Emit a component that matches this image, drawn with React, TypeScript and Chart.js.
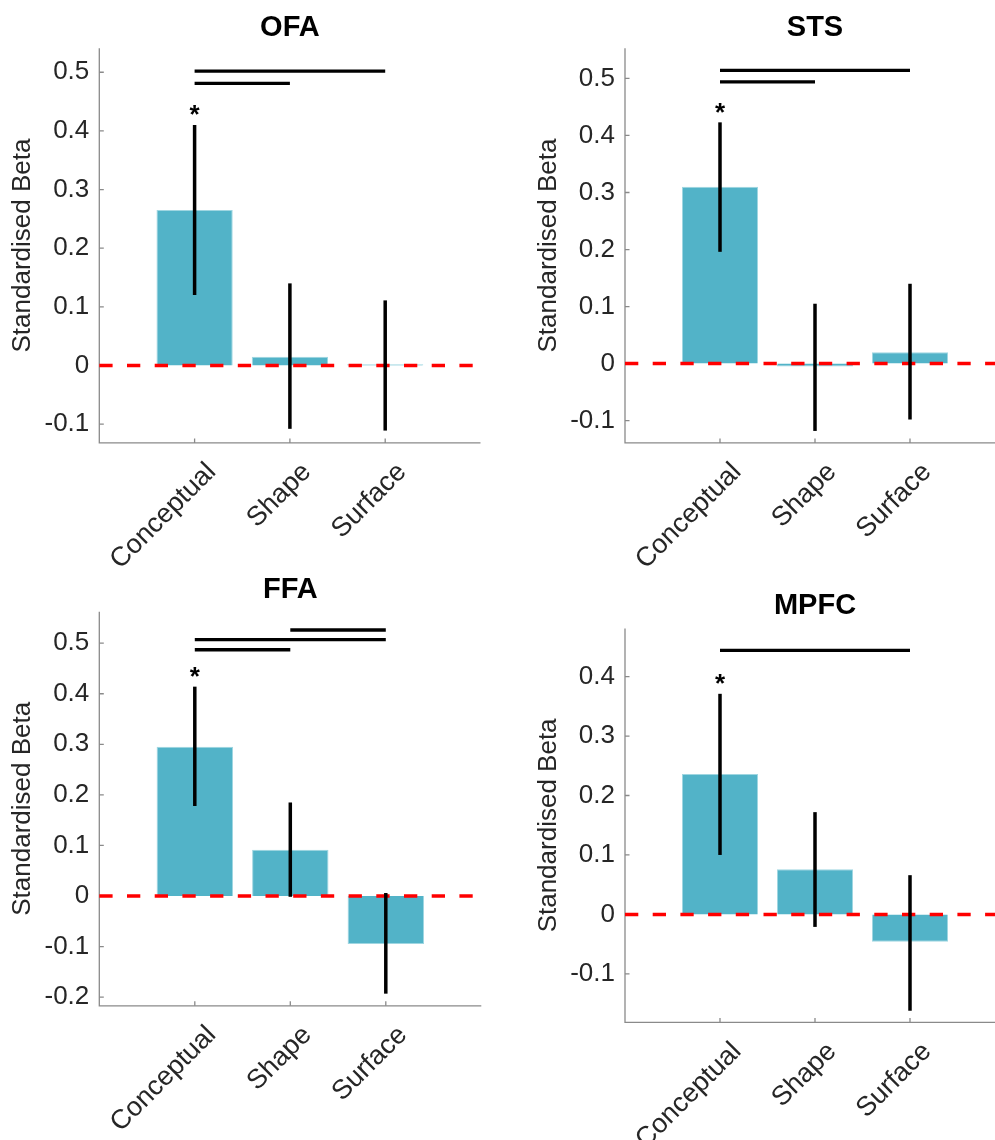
import React, { useEffect, useRef } from 'react';
import { Chart, registerables } from 'chart.js';

Chart.register(...registerables);

// ---------- data ----------
const categories = ['Conceptual', 'Shape', 'Surface'];

// OFA
const ofaMeans = [0.265, 0.015, 0.002];
const ofaLower = [0.12, -0.108, -0.111];
const ofaUpper = [0.41, 0.14, 0.111];
const ofaSig = [[0, 2, 0.502], [0, 1, 0.481]];
const ofaStar = [0.438, null, null];
const ofaTicks = [-0.1, 0, 0.1, 0.2, 0.3, 0.4, 0.5];
const ofaRange = [-0.132, 0.541];

// STS
const stsMeans = [0.31, -0.005, 0.02];
const stsLower = [0.196, -0.118, -0.098];
const stsUpper = [0.423, 0.105, 0.14];
const stsSig = [[0, 2, 0.514], [0, 1, 0.494]];
const stsStar = [0.45, null, null];
const stsTicks = [-0.1, 0, 0.1, 0.2, 0.3, 0.4, 0.5];
const stsRange = [-0.139, 0.553];

// FFA
const ffaMeans = [0.295, 0.0915, -0.095];
const ffaLower = [0.178, -0.0015, -0.193];
const ffaUpper = [0.414, 0.185, 0.006];
const ffaSig = [[1, 2, 0.526], [0, 2, 0.507], [0, 1, 0.487]];
const ffaStar = [0.445, null, null];
const ffaTicks = [-0.2, -0.1, 0, 0.1, 0.2, 0.3, 0.4, 0.5];
const ffaRange = [-0.217, 0.562];

// MPFC
const mpfcMeans = [0.236, 0.076, -0.046];
const mpfcLower = [0.1, -0.021, -0.162];
const mpfcUpper = [0.371, 0.172, 0.066];
const mpfcSig = [[0, 2, 0.444]];
const mpfcStar = [0.398, null, null];
const mpfcTicks = [-0.1, 0, 0.1, 0.2, 0.3, 0.4];
const mpfcRange = [-0.1816, 0.481];

// ---------- styles / layout ----------
const FONT = '"Liberation Sans", Arial, Helvetica, sans-serif';
const BAR_COLOR = '#52b3c8';
const BAR_EDGE = '#9fd6e1';
const TEXT_COLOR = '#262626';
const AXIS_COLOR = '#8a8a8a';

const panels = [
  {
    title: 'OFA', means: ofaMeans, lower: ofaLower, upper: ofaUpper, sig: ofaSig, star: ofaStar,
    ticks: ofaTicks, range: ofaRange,
    canvas: { left: 0, top: 0, width: 500, height: 575 },
    area: { left: 99.3, top: 48.2, right: 480.5, bottom: 442.9 }, titleY: 27.9,
  },
  {
    title: 'STS', means: stsMeans, lower: stsLower, upper: stsUpper, sig: stsSig, star: stsStar,
    ticks: stsTicks, range: stsRange,
    canvas: { left: 500, top: 0, width: 520, height: 575 },
    area: { left: 625, top: 48.2, right: 1005, bottom: 442.9 }, titleY: 27.9,
  },
  {
    title: 'FFA', means: ffaMeans, lower: ffaLower, upper: ffaUpper, sig: ffaSig, star: ffaStar,
    ticks: ffaTicks, range: ffaRange,
    canvas: { left: 0, top: 560, width: 500, height: 580 },
    area: { left: 99.3, top: 611.8, right: 481.3, bottom: 1005.8 }, titleY: 589.6,
  },
  {
    title: 'MPFC', means: mpfcMeans, lower: mpfcLower, upper: mpfcUpper, sig: mpfcSig, star: mpfcStar,
    ticks: mpfcTicks, range: mpfcRange,
    canvas: { left: 500, top: 560, width: 520, height: 580 },
    area: { left: 625, top: 628.4, right: 1005, bottom: 1022.4 }, titleY: 606.2,
  },
];

function Panel({ p }: { p: any }) {
  const ref = useRef<HTMLCanvasElement>(null);
  const c = p.canvas;
  const a = p.area;

  useEffect(() => {
    const yLabelSize = 26;
    const yLabelLH = yLabelSize * 1.2;
    const yLabelCenter = a.left - 76 - c.left;
    const xAxisH = c.top + c.height - a.bottom;

    const overlay = {
      id: 'overlay_' + p.title,
      beforeDatasetsDraw(chart: any) {
        const { ctx, chartArea: ca, scales } = chart;
        const x = scales.x, y = scales.y;
        ctx.save();
        ctx.strokeStyle = AXIS_COLOR;
        ctx.lineWidth = 1.3;
        ctx.beginPath();
        ctx.moveTo(ca.left, ca.top);
        ctx.lineTo(ca.left, ca.bottom);
        ctx.lineTo(ca.right, ca.bottom);
        ctx.stroke();
        // inward tick marks
        ctx.beginPath();
        p.ticks.forEach((v: number) => {
          const py = y.getPixelForValue(v);
          ctx.moveTo(ca.left, py);
          ctx.lineTo(ca.left + 4.5, py);
        });
        categories.forEach((_, i) => {
          const px = x.getPixelForValue(i + 1);
          ctx.moveTo(px, ca.bottom);
          ctx.lineTo(px, ca.bottom - 4.5);
        });
        ctx.stroke();
        ctx.restore();
      },
      afterDatasetsDraw(chart: any) {
        const { ctx, chartArea: ca, scales } = chart;
        const x = scales.x, y = scales.y;
        ctx.save();
        // zero reference line
        const y0 = y.getPixelForValue(0);
        ctx.strokeStyle = '#ff0000';
        ctx.lineWidth = 3.5;
        ctx.setLineDash([13.3, 14.4]);
        ctx.beginPath();
        ctx.moveTo(ca.left, y0);
        ctx.lineTo(ca.right, y0);
        ctx.stroke();
        ctx.setLineDash([]);
        // error bars
        ctx.strokeStyle = '#000';
        ctx.lineWidth = 3.5;
        ctx.lineCap = 'butt';
        p.lower.forEach((lo: number, i: number) => {
          const px = x.getPixelForValue(i + 1);
          ctx.beginPath();
          ctx.moveTo(px, y.getPixelForValue(lo));
          ctx.lineTo(px, y.getPixelForValue(p.upper[i]));
          ctx.stroke();
        });
        // significance lines
        ctx.lineWidth = 3.3;
        p.sig.forEach((s: number[]) => {
          const py = y.getPixelForValue(s[2]);
          ctx.beginPath();
          ctx.moveTo(x.getPixelForValue(s[0] + 1), py);
          ctx.lineTo(x.getPixelForValue(s[1] + 1), py);
          ctx.stroke();
        });
        // asterisks
        ctx.fillStyle = '#000';
        ctx.font = `bold 26px ${FONT}`;
        ctx.textAlign = 'center';
        ctx.textBaseline = 'alphabetic';
        p.star.forEach((v: number | null, i: number) => {
          if (v == null) return;
          ctx.fillText('*', x.getPixelForValue(i + 1), y.getPixelForValue(v) + 14);
        });
        ctx.restore();
      },
      afterDraw(chart: any) {
        const { ctx, chartArea: ca } = chart;
        ctx.save();
        ctx.fillStyle = '#000';
        ctx.font = `bold 29px ${FONT}`;
        ctx.textAlign = 'center';
        ctx.textBaseline = 'middle';
        ctx.fillText(p.title, (ca.left + ca.right) / 2, p.titleY - c.top);
        ctx.restore();
      },
    };

    const chart = new Chart(ref.current as HTMLCanvasElement, {
      type: 'bar',
      data: {
        datasets: [
          {
            data: p.means.map((v: number, i: number) => ({ x: i + 1, y: v })),
            backgroundColor: BAR_COLOR,
            borderColor: BAR_EDGE,
            borderWidth: 1,
            categoryPercentage: 1,
            barPercentage: 0.8,
          },
        ],
      },
      options: {
        responsive: false,
        animation: false,
        devicePixelRatio: 1,
        layout: {
          padding: {
            left: 0,
            top: a.top - c.top,
            right: c.left + c.width - a.right,
            bottom: 0,
          },
        },
        plugins: {
          legend: { display: false },
          tooltip: { enabled: false },
          title: { display: false },
        },
        scales: {
          x: {
            type: 'linear',
            min: 0,
            max: 4,
            offset: false,
            grid: { display: false, drawTicks: false, offset: false },
            border: { display: false },
            afterBuildTicks: (s: any) => {
              s.ticks = categories.map((_, i) => ({ value: i + 1 }));
            },
            afterFit: (s: any) => {
              s.height = xAxisH;
            },
            ticks: {
              autoSkip: false,
              minRotation: 45,
              maxRotation: 45,
              padding: 13.5,
              labelOffset: 17,
              color: TEXT_COLOR,
              font: { family: FONT, size: 27 },
              callback: (v: any) => categories[Number(v) - 1] ?? '',
            },
          },
          y: {
            type: 'linear',
            min: p.range[0],
            max: p.range[1],
            grid: { display: false, drawTicks: false },
            border: { display: false },
            afterBuildTicks: (s: any) => {
              s.ticks = p.ticks.map((v: number) => ({ value: v }));
            },
            afterFit: (s: any) => {
              s.width = a.left - c.left;
            },
            ticks: {
              padding: 10,
              color: TEXT_COLOR,
              font: { family: FONT, size: 26 },
              callback: (v: any) => String(Math.round(Number(v) * 10) / 10),
            },
            title: {
              display: true,
              text: 'Standardised Beta',
              color: TEXT_COLOR,
              font: { family: FONT, size: yLabelSize },
              padding: { top: yLabelCenter - yLabelLH / 2, bottom: 0 },
            },
          },
        },
      } as any,
      plugins: [overlay],
    });
    return () => chart.destroy();
  }, []);

  return (
    <canvas
      ref={ref}
      width={c.width}
      height={c.height}
      style={{ position: 'absolute', left: c.left, top: c.top, width: c.width, height: c.height }}
    />
  );
}

export default function App() {
  return (
    <div
      style={{
        position: 'absolute',
        left: 0,
        top: 0,
        width: 995,
        height: 1140,
        overflow: 'hidden',
        background: '#ffffff',
      }}
    >
      {panels.map((p) => (
        <Panel key={p.title} p={p} />
      ))}
    </div>
  );
}
